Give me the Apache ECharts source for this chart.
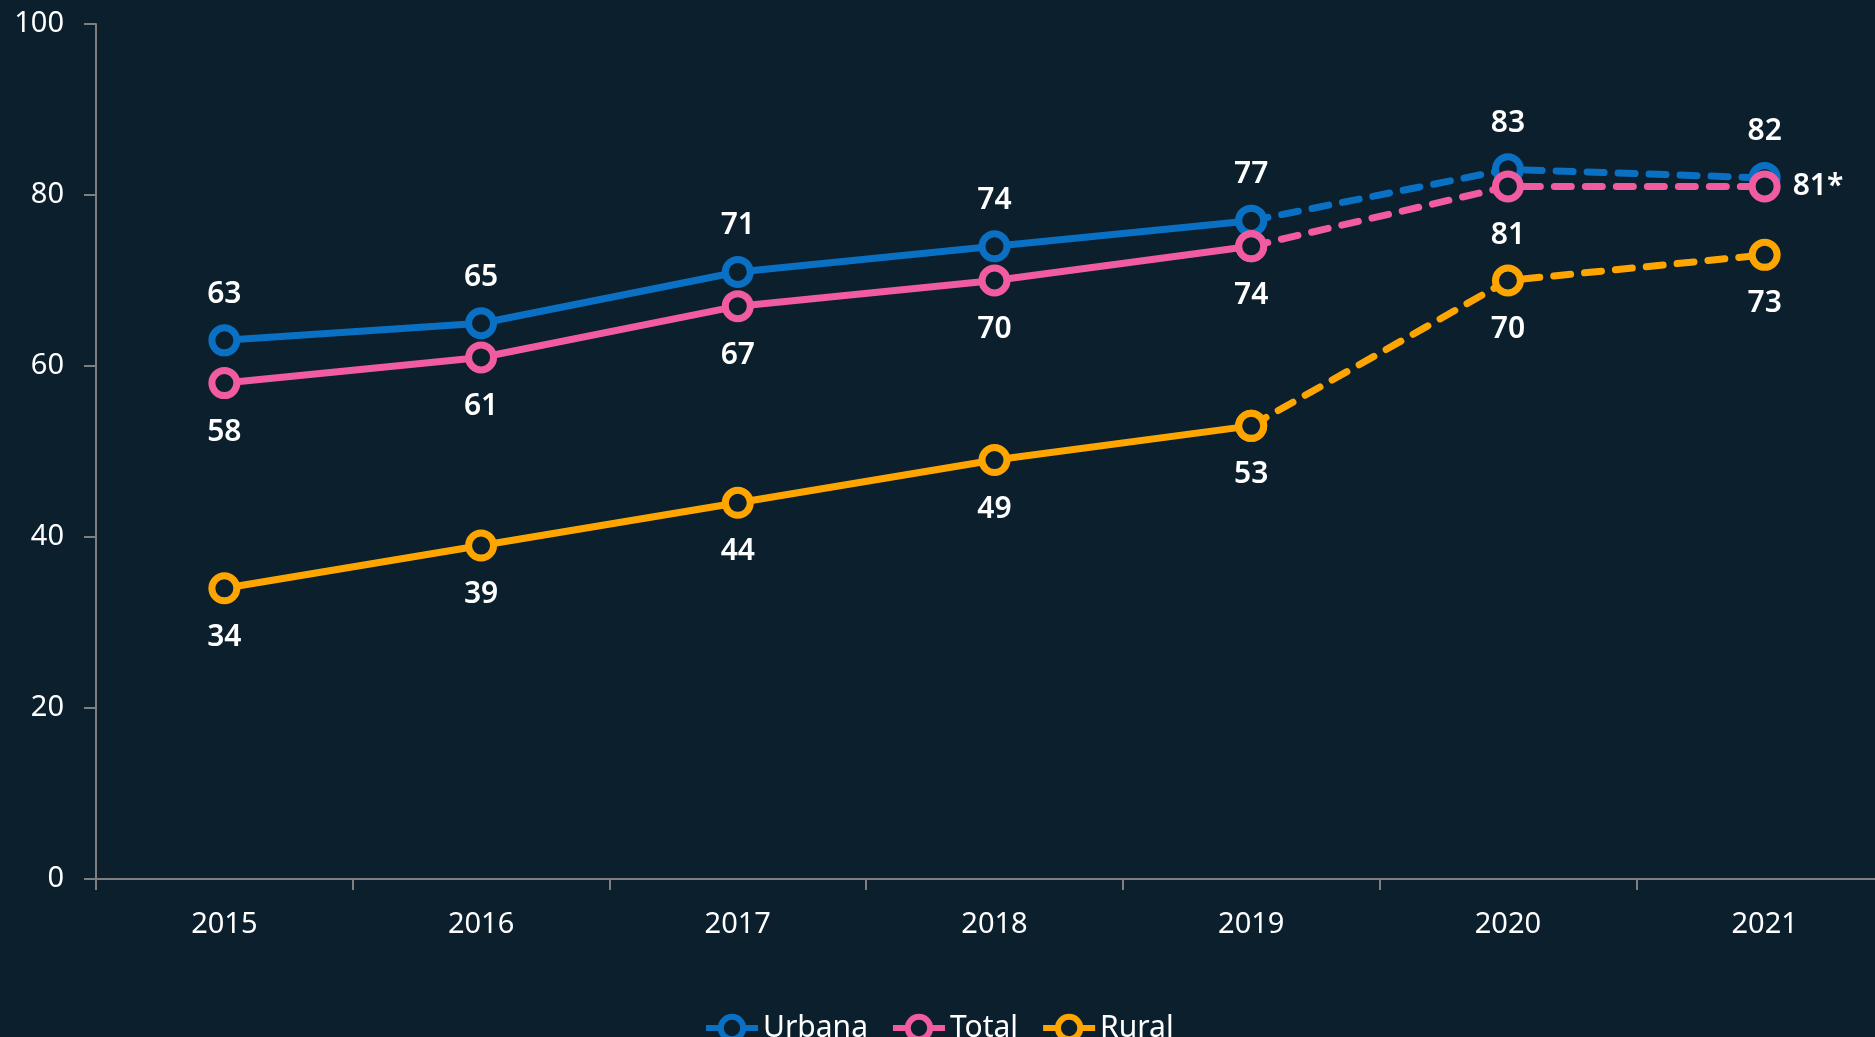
<!DOCTYPE html>
<html>
<head>
<meta charset="utf-8">
<script src="https://cdn.jsdelivr.net/npm/echarts@6/dist/echarts.min.js"></script>
<style>
html,body{margin:0;padding:0;background:#0b1f2d;}
#c{width:1875px;height:1037px;}
</style>
</head>
<body>
<div id="c"></div>
<script>
const years = ['2015','2016','2017','2018','2019','2020','2021'];
const urbana = [63,65,71,74,77,83,82];
const total = [58,61,67,70,74,81,81];
const rural = [34,39,44,49,53,70,73];
const yTicks = [0,20,40,60,80,100];
const dashFrom = 4; // index where projected (dashed) part starts
const totalLabelSuffix = {6:'*'};

const FONT = '"Noto Sans", "Open Sans", sans-serif';
const colors = {Urbana:'#0a70c4', Total:'#f15ba0', Rural:'#ffa500'};

function makeSeries(name, values, labelPos, specialPos, suffix){
  const lbl = (i) => {
    const pos = (specialPos && specialPos[i]) || labelPos;
    return {show:true, position:pos, distance: pos==='top'?15:(pos==='right'?12:18),
      formatter: () => values[i] + ((suffix && suffix[i]) || '')};
  };
  const solid = values.map((v,i)=> i<=dashFrom ? {value:v, label: lbl(i)} : '-');
  const dashed = values.map((v,i)=> i>=dashFrom ? {value:v, label: i>dashFrom ? lbl(i) : {show:false}} : '-');
  const common = {
    name, type:'line', symbol:'circle', symbolSize:25,
    itemStyle:{color:'#0b1f2d', borderColor:colors[name], borderWidth:7},
    label:{color:'#ffffff', fontSize:30, fontWeight:600, fontFamily:FONT},
    emphasis:{disabled:true}, animation:false
  };
  return [
    Object.assign({}, common, {data:solid, lineStyle:{color:colors[name], width:7}}),
    Object.assign({}, common, {data:dashed, lineStyle:{color:colors[name], width:7, type:[17,14], cap:'round'}})
  ];
}

const chart = echarts.init(document.getElementById('c'));
chart.setOption({
  backgroundColor:'#0b1f2d',
  animation:false,
  grid:{left:96, width:1797, top:24, bottom:158, containLabel:false, outerBoundsMode:'none'},
  legend:{
    data:['Urbana','Total','Rural'],
    left:698, top:1008, itemWidth:52, itemHeight:28, itemGap:22,
    lineStyle:{width:6},
    itemStyle:{borderWidth:6},
    textStyle:{color:'#ffffff', fontSize:30, fontFamily:FONT}
  },
  xAxis:{
    type:'category', data:years, boundaryGap:true,
    axisLine:{lineStyle:{color:'#7f7f7f', width:2}},
    axisTick:{show:true, length:11, lineStyle:{color:'#7f7f7f', width:2}},
    axisLabel:{color:'#ffffff', fontSize:29, fontFamily:FONT, margin:31}
  },
  yAxis:{
    type:'value', min:yTicks[0], max:yTicks[yTicks.length-1], interval:yTicks[1]-yTicks[0],
    axisLine:{show:true, lineStyle:{color:'#7f7f7f', width:2}},
    axisTick:{show:true, length:12, lineStyle:{color:'#7f7f7f', width:2}},
    splitLine:{show:false},
    axisLabel:{color:'#ffffff', fontSize:29, fontFamily:FONT, margin:32}
  },
  series:[
    ...makeSeries('Urbana', urbana, 'top'),
    ...makeSeries('Total', total, 'bottom', {6:'right'}, totalLabelSuffix),
    ...makeSeries('Rural', rural, 'bottom')
  ]
});
</script>
</body>
</html>
